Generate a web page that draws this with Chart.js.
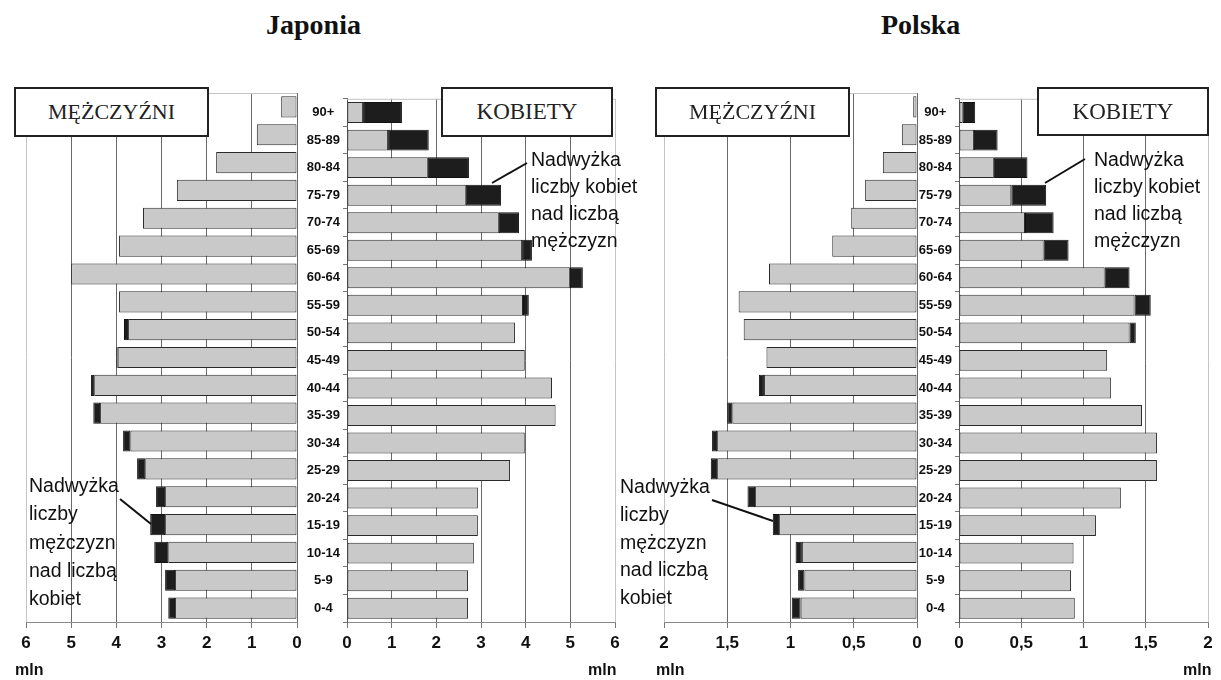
<!DOCTYPE html>
<html lang="pl">
<head>
<meta charset="utf-8">
<title>Japonia / Polska</title>
<script src="https://cdn.jsdelivr.net/npm/chart.js@4.4.1/dist/chart.umd.min.js"></script>
<style>
    html, body { margin: 0; padding: 0; background: #fff; }
    body { width: 1221px; height: 680px; position: relative; overflow: hidden; }
    canvas { position: absolute; }
    .title { position: absolute; top: 9px; font: bold 28px 'Liberation Serif', 'Times New Roman', serif; color: #111; }
    .box { position: absolute; background: #fff; border: 2px solid #222; box-sizing: border-box;
           display: flex; align-items: center; justify-content: center;
           font: 22px 'Liberation Serif', 'Times New Roman', serif; color: #222; z-index: 3; }
    .note { position: absolute; font: 19.5px 'Liberation Sans', Arial, sans-serif; color: #111; white-space: pre; z-index: 3; }
    .mln { position: absolute; font: bold 16px 'Liberation Sans', Arial, sans-serif; color: #111; }
    svg { position: absolute; left: 0; top: 0; z-index: 4; }
</style>
</head>
<body>
<div class="title" style="left:266px">Japonia</div>
<div class="title" style="left:881px">Polska</div>

<canvas id="japanMen" width="310" height="574" style="left:0px;top:88px"></canvas>
<canvas id="japanWomen" width="333" height="574" style="left:297px;top:88px"></canvas>
<canvas id="polandMen" width="290" height="574" style="left:640px;top:88px"></canvas>
<canvas id="polandWomen" width="304" height="574" style="left:917px;top:88px"></canvas>

<div class="box" style="left:14px;top:87px;width:195px;height:50px">MĘŻCZYŹNI</div>
<div class="box" style="left:441px;top:87px;width:172px;height:50px;font-size:23px">KOBIETY</div>
<div class="box" style="left:655px;top:87px;width:195px;height:50px">MĘŻCZYŹNI</div>
<div class="box" style="left:1037px;top:87px;width:172px;height:49px;font-size:23px">KOBIETY</div>

<div class="note" style="left:29px;top:471px;line-height:28.3px">Nadwyżka
liczby
mężczyzn
nad liczbą
kobiet</div>
<div class="note" style="left:531px;top:146px;line-height:27px">Nadwyżka
liczby kobiet
nad liczbą
mężczyzn</div>
<div class="note" style="left:620px;top:473px;line-height:27.8px">Nadwyżka
liczby
mężczyzn
nad liczbą
kobiet</div>
<div class="note" style="left:1094px;top:146px;line-height:27px">Nadwyżka
liczby kobiet
nad liczbą
mężczyzn</div>

<svg width="1221" height="680">
    <g stroke="#111" stroke-width="2">
        <line x1="120" y1="499" x2="151" y2="524"/>
        <line x1="527" y1="163" x2="492" y2="183"/>
        <line x1="712" y1="500" x2="773" y2="521"/>
        <line x1="1085" y1="159" x2="1045" y2="183"/>
    </g>
</svg>

<div class="mln" style="left:15px;top:661px">mln</div>
<div class="mln" style="left:588px;top:661px">mln</div>
<div class="mln" style="left:656px;top:661px">mln</div>
<div class="mln" style="left:1183px;top:661px">mln</div>

<script>
        const ageGroups = ['90+', '85-89', '80-84', '75-79', '70-74', '65-69', '60-64', '55-59', '50-54', '45-49',
                           '40-44', '35-39', '30-34', '25-29', '20-24', '15-19', '10-14', '5-9', '0-4'];

        // mln, gray part and black surplus part of every bar
        const japanMenBase = [0.35, 0.89, 1.79, 2.66, 3.41, 3.94, 5.0, 3.94, 3.74, 3.97, 4.49, 4.36, 3.69, 3.36, 2.92, 2.92, 2.85, 2.70, 2.70];
        const japanMenSurplus = [0, 0, 0, 0, 0, 0, 0, 0, 0.09, 0.03, 0.07, 0.15, 0.16, 0.18, 0.20, 0.33, 0.31, 0.22, 0.15];
        const japanWomenBase = [0.36, 0.92, 1.81, 2.66, 3.40, 3.92, 4.99, 3.94, 3.76, 3.98, 4.59, 4.67, 3.98, 3.65, 2.93, 2.93, 2.84, 2.71, 2.71];
        const japanWomenSurplus = [0.87, 0.91, 0.92, 0.79, 0.45, 0.22, 0.29, 0.13, 0, 0, 0, 0, 0, 0, 0, 0, 0, 0, 0];

        const polandMenBase = [0.03, 0.12, 0.27, 0.41, 0.52, 0.67, 1.17, 1.41, 1.37, 1.19, 1.21, 1.46, 1.58, 1.58, 1.28, 1.09, 0.91, 0.89, 0.92];
        const polandMenSurplus = [0, 0, 0, 0, 0, 0, 0, 0, 0, 0, 0.04, 0.04, 0.04, 0.05, 0.06, 0.05, 0.05, 0.05, 0.07];
        const polandWomenBase = [0.03, 0.12, 0.28, 0.42, 0.53, 0.68, 1.17, 1.41, 1.37, 1.19, 1.22, 1.47, 1.59, 1.59, 1.30, 1.10, 0.92, 0.90, 0.93];
        const polandWomenSurplus = [0.10, 0.19, 0.27, 0.28, 0.23, 0.20, 0.20, 0.13, 0.05, 0, 0, 0, 0, 0, 0, 0, 0, 0, 0];

        const japanTicks = { max: 6, step: 1 };
        const polandTicks = { max: 2, step: 0.5 };

        const sansFont = "'Liberation Sans', Arial, sans-serif";

        // light frame line on top of the plot area
        const topBorder = {
            id: 'topBorder',
            beforeDatasetsDraw(chart) {
                const a = chart.chartArea;
                const ctx = chart.ctx;
                ctx.save();
                ctx.strokeStyle = '#c4c4c4';
                ctx.lineWidth = 1;
                ctx.beginPath();
                ctx.moveTo(a.left, a.top + 0.5);
                ctx.lineTo(a.right, a.top + 0.5);
                ctx.stroke();
                ctx.restore();
            }
        };

        function makePanel(id, base, surplus, range, isMen, padLeft, padRight, labelWidth) {
            const ctx = document.getElementById(id).getContext('2d');
            return new Chart(ctx, {
                type: 'bar',
                data: {
                    labels: ageGroups,
                    datasets: [{
                        data: base,
                        backgroundColor: '#c9c9c9',
                        borderColor: '#2a2a2a',
                        borderWidth: 1,
                        borderSkipped: false
                    }, {
                        data: surplus,
                        backgroundColor: '#1d1d1d',
                        borderColor: '#111',
                        borderWidth: 1,
                        borderSkipped: false
                    }]
                },
                options: {
                    indexAxis: 'y',
                    responsive: false,
                    animation: false,
                    events: [],
                    layout: { padding: { left: padLeft, right: padRight, top: 5, bottom: 0 } },
                    datasets: { bar: { barPercentage: 0.76, categoryPercentage: 1 } },
                    scales: {
                        x: {
                            stacked: true,
                            min: 0,
                            max: range.max,
                            reverse: isMen,
                            afterFit: s => { s.height = 40; },
                            ticks: {
                                stepSize: range.step,
                                padding: 5,
                                color: '#111',
                                font: { family: sansFont, size: 17, weight: 'bold' },
                                callback: v => String(v).replace('.', ',')
                            },
                            grid: {
                                color: c => (c.tick && c.tick.value === range.max) ? '#c4c4c4' : '#6a6a6a',
                                tickColor: '#777',
                                tickLength: 6,
                                lineWidth: 1
                            },
                            border: { display: true, color: '#8a8a8a' }
                        },
                        y: {
                            stacked: true,
                            display: !isMen,
                            afterFit: s => { s.width = labelWidth; },
                            ticks: {
                                crossAlign: 'center',
                                padding: 3,
                                color: '#111',
                                font: { family: sansFont, size: 13, weight: 'bold' }
                            },
                            grid: { drawOnChartArea: false, offset: true, tickLength: 4, color: '#777' },
                            border: { display: true, color: '#555' }
                        }
                    },
                    plugins: {
                        legend: { display: false },
                        tooltip: { enabled: false }
                    }
                },
                plugins: [topBorder]
            });
        }

        window.addEventListener('load', function() {
            makePanel('japanMen', japanMenBase, japanMenSurplus, japanTicks, true, 26, 13, 0);
            makePanel('japanWomen', japanWomenBase, japanWomenSurplus, japanTicks, false, 0, 15, 50);
            makePanel('polandMen', polandMenBase, polandMenSurplus, polandTicks, true, 24, 13, 0);
            makePanel('polandWomen', polandWomenBase, polandWomenSurplus, polandTicks, false, 0, 13, 42);
        });
</script>
</body>
</html>
